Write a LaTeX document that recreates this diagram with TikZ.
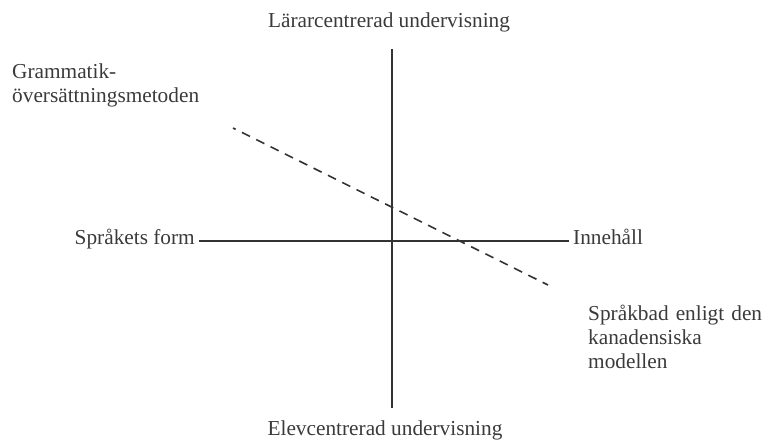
\documentclass[tikz,border=0pt]{standalone}
\usepackage{fontspec}
\setmainfont{Liberation Serif}
\definecolor{ink}{HTML}{333333}
\definecolor{txt}{HTML}{3A3A3A}
\begin{document}
\begin{tikzpicture}[x=1pt,y=1pt,
  lbl/.style={text=txt, font=\fontsize{21.3}{24}\selectfont, inner sep=0pt},
  axis/.style={draw=ink, line width=1.6pt},
  trend/.style={draw=ink, line width=1.6pt, dash pattern=on 9pt off 7pt, dash phase=6pt}]
\useasboundingbox (0,0) rectangle (783,442);
\node[lbl, anchor=base] (top) at (389,414) {Lärarcentrerad undervisning};
\node[lbl, anchor=base] (bot) at (385,7) {Elevcentrerad undervisning};
\node[lbl, anchor=base east] (form) at (195,197) {Språkets form};
\node[lbl, anchor=base west] (inn) at (573,197) {Innehåll};
\node[lbl, anchor=base west, align=left] (gram) at (12,339) {Grammatik-\\översättningsmetoden};
\node[lbl, anchor=base west, align=left, text width=193pt] (bad) at (588,122)
  {\makebox[193pt][s]{Språkbad enligt den}\\kanadensiska\\modellen};
\coordinate (vt) at (392,393);
\coordinate (vb) at (392,34);
\coordinate (hl) at (199,201);
\coordinate (hr) at (569,201);
\coordinate (ds) at (233,314);
\coordinate (de) at (548,157);
\draw[axis] (vt) -- (vb);
\draw[axis] (hl) -- (hr);
\draw[trend] (ds) -- (de);
\end{tikzpicture}
\end{document}
